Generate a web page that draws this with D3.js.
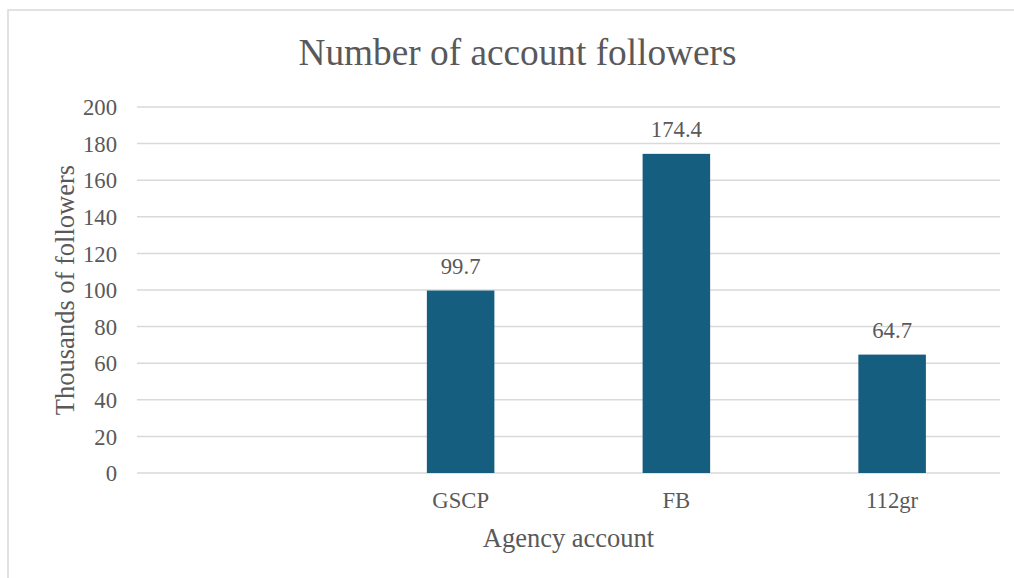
<!DOCTYPE html>
<html>
    <head>
        <meta charset="utf-8">
        <script src="https://cdn.jsdelivr.net/npm/d3@7"></script>
        <style>
            body { margin: 0; background: #fff; }
            text { font-family: "Liberation Serif", "Times New Roman", serif; fill: #595959; }
        </style>
        <script>
            // data
            var categories = ["", "GSCP", "FB", "112gr"];
            var followers = [null, 99.7, 174.4, 64.7];
            var yTicks = [0, 20, 40, 60, 80, 100, 120, 140, 160, 180, 200];

            function makeSVG() {

                var svg = d3.select("#fig");

                const width = +svg.attr("width");
                const height = +svg.attr("height");

                const margin = { left: 137, top: 107, right: 14, bottom: 105 };

                // chart border (only top and left show in the frame)
                svg.append("rect")
                   .attr("x", 8).attr("y", 10)
                   .attr("width", width + 20).attr("height", height + 20)
                   .attr("fill", "none")
                   .attr("stroke", "#d9d9d9")
                   .attr("stroke-width", 1.5);

                // X scale: Excel style, equal bands, bar centred
                const gap = 0.687;
                const xSc = d3.scaleBand()
                              .domain(categories)
                              .range([margin.left, width - margin.right])
                              .paddingInner(gap)
                              .paddingOuter(gap / 2);

                const ySc = d3.scaleLinear()
                              .domain([0, 200])
                              .range([height - margin.bottom, margin.top]);

                // gridlines
                svg.append("g")
                   .selectAll("line")
                   .data(yTicks)
                   .enter()
                   .append("line")
                   .attr("x1", margin.left)
                   .attr("x2", width - margin.right)
                   .attr("y1", d => ySc(d))
                   .attr("y2", d => ySc(d))
                   .attr("stroke", "#d9d9d9")
                   .attr("stroke-width", 1.5);

                // y axis labels
                var yg = svg.append("g")
                            .attr("transform", `translate(${margin.left - 20},0)`)
                            .call(d3.axisLeft(ySc).tickValues(yTicks).tickSize(0).tickPadding(0));
                yg.select(".domain").remove();
                yg.selectAll("text")
                  .style("font-size", "22.7px")
                  .style("font-family", "Liberation Serif")
                  .attr("fill", "#595959")
                  .attr("dy", "0.34em");

                // x axis labels
                var xg = svg.append("g")
                            .attr("transform", `translate(0,${ySc(0)})`)
                            .call(d3.axisBottom(xSc).tickSize(0).tickPadding(0));
                xg.select(".domain").remove();
                xg.selectAll("text")
                  .style("font-size", "22.7px")
                  .style("font-family", "Liberation Serif")
                  .attr("fill", "#595959")
                  .attr("y", 35)
                  .attr("dy", "0");

                // bars
                var rows = categories.map((c, i) => ({ cat: c, val: followers[i] }))
                                     .filter(d => d.val != null);

                svg.selectAll("rect.bar")
                   .data(rows)
                   .enter()
                   .append("rect")
                   .attr("class", "bar")
                   .attr("x", d => xSc(d.cat))
                   .attr("width", xSc.bandwidth())
                   .attr("y", d => ySc(d.val))
                   .attr("height", d => ySc(0) - ySc(d.val))
                   .attr("fill", "#165e80");

                // data labels
                svg.selectAll("text.lbl")
                   .data(rows)
                   .enter()
                   .append("text")
                   .attr("class", "lbl")
                   .attr("x", d => xSc(d.cat) + xSc.bandwidth() / 2)
                   .attr("y", d => ySc(d.val) - 16.6)
                   .attr("text-anchor", "middle")
                   .style("font-size", "22.7px")
                   .text(d => d.val.toFixed(1));

                // titles
                svg.append("text")
                   .attr("x", 517.5).attr("y", 65)
                   .attr("text-anchor", "middle")
                   .style("font-size", "37.3px")
                   .text("Number of account followers");

                svg.append("text")
                   .attr("x", (margin.left + width - margin.right) / 2)
                   .attr("y", 546.7)
                   .attr("text-anchor", "middle")
                   .style("font-size", "26.5px")
                   .text("Agency account");

                svg.append("text")
                   .attr("transform", `translate(74,${(ySc(0) + ySc(200)) / 2}) rotate(-90)`)
                   .attr("text-anchor", "middle")
                   .style("font-size", "26.5px")
                   .text("Thousands of followers");
            }
        </script>
    </head>
    <body onload="makeSVG()">

        <svg id="fig" width="1014" height="578"></svg>

    </body>
</html>
